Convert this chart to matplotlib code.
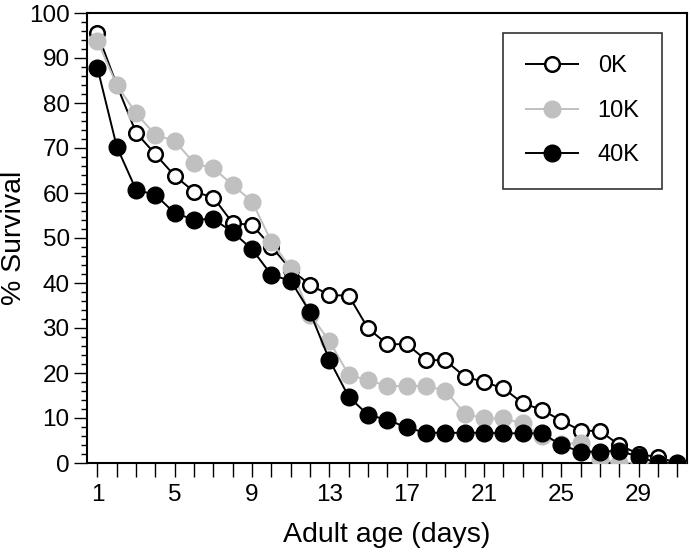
import numpy as np
import matplotlib.pyplot as plt
from matplotlib.ticker import MultipleLocator

plt.rcParams['font.family'] = ['Liberation Sans', 'DejaVu Sans']

# days and survival (%)
days = list(range(1, 32))
surv_0k = [95.5, 84, 73.4, 68.6, 63.8, 60.3, 59.0, 53.3, 52.9, 48.1,
           43.0, 39.6, 37.3, 37.2, 29.9, 26.4, 26.4, 22.9, 22.8, 19.2,
           18.0, 16.6, 13.3, 11.8, 9.4, 7.2, 7.1, 4.0, 2.0, 1.3, 0]
surv_10k = [93.8, 84, 77.7, 72.9, 71.6, 66.6, 65.5, 61.8, 58.1, 49.2,
            43.3, 33.0, 27.1, 19.6, 18.4, 17.1, 17.1, 17.1, 16.1, 11.0,
            9.9, 9.9, 8.8, 5.9, 4.3, 4.4, 0.8, 0, 0, 0, 0]
surv_40k = [87.8, 70.3, 60.7, 59.6, 55.5, 54.1, 54.2, 51.3, 47.5, 41.8,
            40.5, 33.5, 22.9, 14.7, 10.7, 9.6, 7.9, 6.7, 6.7, 6.7,
            6.7, 6.6, 6.6, 6.6, 4.0, 2.5, 2.5, 2.7, 1.4, 0, 0]
labels = ['0K', '10K', '40K']

fig = plt.figure(figsize=(6.91, 5.52), dpi=100)
ax = fig.add_axes([87 / 691, 1 - 463 / 552, 600 / 691, 450 / 552])

gray = '#c0c0c0'
ax.plot(days, surv_0k, color='black', lw=1.4, marker='o', ms=10.5,
        mfc='white', mec='black', mew=1.8, label=labels[0], zorder=3)
ax.plot(days, surv_10k, color=gray, lw=1.4, marker='o', ms=12,
        mfc=gray, mec=gray, label=labels[1], zorder=4)
ax.plot(days, surv_40k, color='black', lw=1.4, marker='o', ms=12,
        mfc='black', mec='black', label=labels[2], zorder=5)

ax.set_xlim(0.46, 31.5)
ax.set_ylim(0, 100)
ax.set_xticks(range(1, 32))
ax.set_xticklabels([str(d) if (d - 1) % 4 == 0 else '' for d in days])
ax.yaxis.set_major_locator(MultipleLocator(10))
ax.yaxis.set_minor_locator(MultipleLocator(2))
ax.tick_params(axis='x', direction='out', length=10, width=1.0,
               labelsize=17.5, pad=5)
ax.tick_params(axis='y', which='major', direction='out', length=9.5,
               width=1.0, labelsize=17.5, pad=3)
ax.tick_params(axis='y', which='minor', direction='out', length=4.5, width=1.0)
for s in ax.spines.values():
    s.set_linewidth(1.5)

ax.set_xlabel('Adult age (days)', fontsize=20.5, labelpad=12)
ax.set_ylabel('% Survival', fontsize=20.5)
ax.yaxis.set_label_coords(-0.1, 0.5)

leg = ax.legend(loc='upper right', bbox_to_anchor=(662 / 691, 1 - 33 / 552),
                bbox_transform=fig.transFigure, fontsize=17, frameon=True,
                fancybox=False, edgecolor='black', borderaxespad=0,
                handlelength=2.2, handletextpad=0.85, labelspacing=0.95,
                borderpad=0.95)
leg.get_frame().set_linewidth(1.2)

fig.savefig('out.png', dpi=100)
